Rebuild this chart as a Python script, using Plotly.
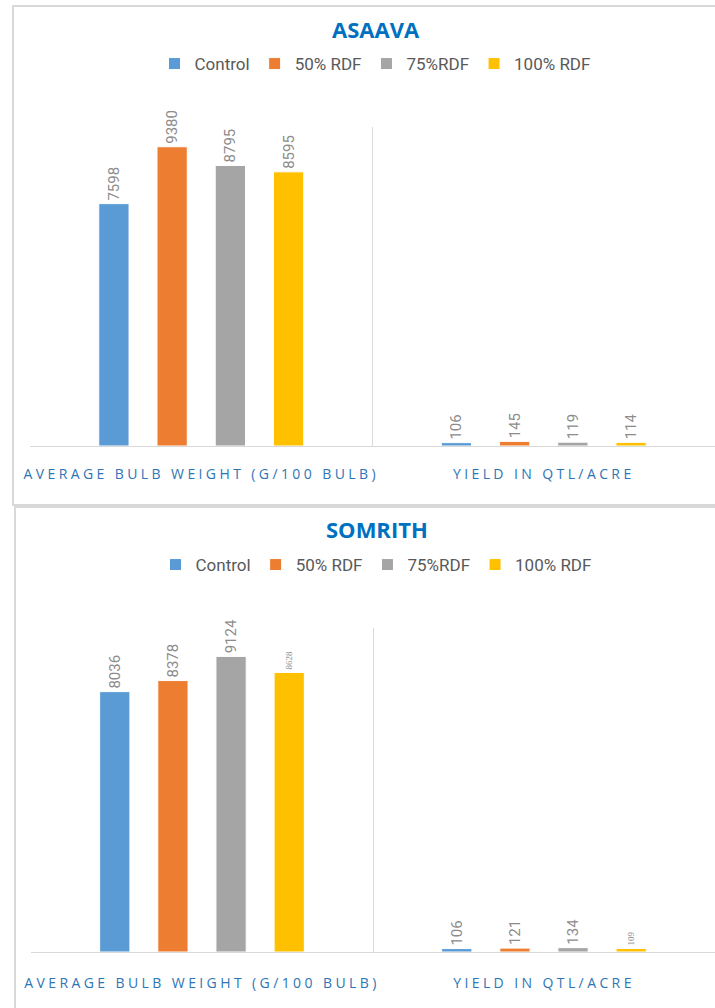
import plotly.graph_objects as go

categories = ["AVERAGE BULB WEIGHT (G/100 BULB)", "YIELD IN QTL/ACRE"]
series_names = ["Control", "50% RDF", "75%RDF", "100% RDF"]
colors = ["#5B9BD5", "#ED7D31", "#A5A5A5", "#FFC000"]

asaava_control = [7598, 106]
asaava_50 = [9380, 145]
asaava_75 = [8795, 119]
asaava_100 = [8595, 114]

somrith_control = [8036, 106]
somrith_50 = [8378, 121]
somrith_75 = [9124, 134]
somrith_100 = [8628, 109]

asaava = [asaava_control, asaava_50, asaava_75, asaava_100]
somrith = [somrith_control, somrith_50, somrith_75, somrith_100]

W, H = 715, 1008
def py(p):
    return 1 - p / H

LABEL_FONT = "Liberation Sans Narrow, Roboto, sans-serif"
fig = go.Figure()

for i, (name, col) in enumerate(zip(series_names, colors)):
    fig.add_trace(go.Bar(
        x=categories, y=asaava[i], name=name, marker=dict(color=col, line=dict(color="white", width=1)),
        text=[str(v) for v in asaava[i]], textposition="outside", textangle=-90,
        textfont=dict(color="#8c8c8c", size=15, family=LABEL_FONT),
        constraintext="none", cliponaxis=False,
        xaxis="x", yaxis="y", legend="legend", hoverinfo="skip"))

for i, (name, col) in enumerate(zip(series_names, colors)):
    if i == 3:
        tf = dict(color="#8c8c8c", size=[9, 9], family=["Liberation Serif", "Liberation Serif"])
    else:
        tf = dict(color="#8c8c8c", size=15, family=LABEL_FONT)
    fig.add_trace(go.Bar(
        x=categories, y=somrith[i], name=name, marker=dict(color=col, line=dict(color="white", width=1)),
        text=[str(v) for v in somrith[i]], textposition="outside", textangle=-90,
        textfont=tf, constraintext="none", cliponaxis=False,
        xaxis="x2", yaxis="y2", legend="legend2", hoverinfo="skip"))

xcommon = dict(type="category", tickson="boundaries", showgrid=True, gridcolor="#d9d9d9", gridwidth=1,
               showline=True, linecolor="#d9d9d9", linewidth=1, ticks="",
               tickfont=dict(color="#2E75B6", size=14, family="Open Sans, sans-serif"),
               range=[-0.5, 1.5], fixedrange=True)
ycommon = dict(range=[0, 10000], visible=False, fixedrange=True)

legend_font = dict(color="#595959", size=17, family=LABEL_FONT)
fig.update_layout(
    width=W, height=H, margin=dict(l=0, r=0, t=0, b=0),
    paper_bgcolor="white", plot_bgcolor="white",
    barmode="group", bargap=0.32, bargroupgap=0.48,
    xaxis=dict(domain=[30 / W, 1], anchor="y", ticklabelstandoff=15, **xcommon),
    yaxis=dict(domain=[py(446), py(127)], anchor="x", **ycommon),
    xaxis2=dict(domain=[31 / W, 1], anchor="y2", ticklabelstandoff=18, **xcommon),
    yaxis2=dict(domain=[py(952), py(628)], anchor="x2", **ycommon),
    legend=dict(orientation="h", x=375 / W, xanchor="center", y=py(64), yanchor="middle",
                font=legend_font, itemclick=False, itemdoubleclick=False),
    legend2=dict(orientation="h", x=376 / W, xanchor="center", y=py(565), yanchor="middle",
                 font=legend_font, itemclick=False, itemdoubleclick=False),
    showlegend=True,
    annotations=[
        dict(text="<b>ASAAVA</b>", x=376 / W, y=py(29), xref="paper", yref="paper", showarrow=False,
             font=dict(color="#0070C0", size=22, family="Open Sans, sans-serif"), xanchor="center", yanchor="middle"),
        dict(text="<b>SOMRITH</b>", x=377 / W, y=py(529), xref="paper", yref="paper", showarrow=False,
             font=dict(color="#0070C0", size=22, family="Open Sans, sans-serif"), xanchor="center", yanchor="middle"),
    ],
    shapes=[
        dict(type="rect", xref="paper", yref="paper", x0=13 / W, x1=1.01, y0=py(505), y1=py(6),
             line=dict(color="#d9d9d9", width=2), layer="below"),
        dict(type="rect", xref="paper", yref="paper", x0=15 / W, x1=1.01, y0=-0.01, y1=py(507),
             line=dict(color="#d9d9d9", width=2), layer="below"),
    ],
)

post = ("document.body.style.margin='0';document.body.style.overflow='hidden';"
        "document.querySelectorAll('.xtick text, .x2tick text').forEach(function(t){t.style.letterSpacing='3.4px';});")
fig.write_html("out.html", post_script=post, config={"displayModeBar": False})
